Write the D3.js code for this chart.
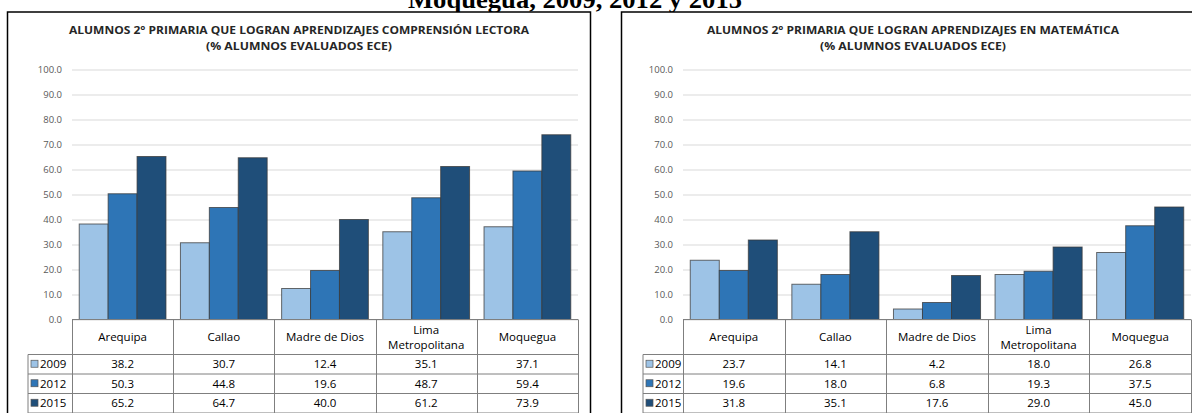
<!DOCTYPE html>
<html>
<head>
<meta charset="utf-8">
<script src="https://cdn.jsdelivr.net/npm/d3@7"></script>
<style>
  body { margin: 0; background: #fff; }
  svg { display: block; }
</style>
</head>
<body>
<svg id="chart" width="1192" height="413"></svg>
<script>
// Regions and evaluation years
const categories = ["Arequipa", "Callao", "Madre de Dios", "Lima\nMetropolitana", "Moquegua"];
const years = ["2009", "2012", "2015"];

// % of 2nd grade students reaching the expected level — reading comprehension
const lectura2009 = [38.2, 30.7, 12.4, 35.1, 37.1];
const lectura2012 = [50.3, 44.8, 19.6, 48.7, 59.4];
const lectura2015 = [65.2, 64.7, 40.0, 61.2, 73.9];

// % of 2nd grade students reaching the expected level — mathematics
const mate2009 = [23.7, 14.1, 4.2, 18.0, 26.8];
const mate2012 = [19.6, 18.0, 6.8, 19.3, 37.5];
const mate2015 = [31.8, 35.1, 17.6, 29.0, 45.0];

const yTicks = [0, 10, 20, 30, 40, 50, 60, 70, 80, 90, 100];

const pageTitle = "Moquegua, 2009, 2012 y 2015";
const titleLectura = ["ALUMNOS 2° PRIMARIA QUE LOGRAN APRENDIZAJES COMPRENSIÓN LECTORA", "(% ALUMNOS EVALUADOS ECE)"];
const titleMate = ["ALUMNOS 2° PRIMARIA QUE LOGRAN APRENDIZAJES EN MATEMÁTICA", "(% ALUMNOS EVALUADOS ECE)"];

const yearColors = ["#9dc3e6", "#2e75b6", "#1f4e79"];
const uiFont = "'Open Sans', 'Noto Sans', sans-serif";

const svg = d3.select("#chart");

// Caption above the two panels (its upper part lies off the page)
svg.append("text")
  .attr("x", 575).attr("y", 8)
  .attr("text-anchor", "middle")
  .attr("font-family", "'Liberation Serif', 'Times New Roman', serif")
  .attr("font-weight", "bold")
  .attr("font-size", 26)
  .attr("textLength", 334)
  .attr("lengthAdjust", "spacingAndGlyphs")
  .text(pageTitle);

function drawPanel(cfg) {
  const g = svg.append("g");
  const series = cfg.series;

  // Panel frame
  g.append("rect")
    .attr("x", cfg.boxX).attr("y", 12)
    .attr("width", cfg.boxW).attr("height", 440)
    .attr("fill", "#fff").attr("stroke", "#000").attr("stroke-width", 1.5);

  // Panel title
  const cx = cfg.boxX + cfg.boxW / 2;
  cfg.title.forEach((line, i) => {
    g.append("text")
      .attr("x", cx).attr("y", 34 + i * 16)
      .attr("text-anchor", "middle")
      .attr("font-family", uiFont)
      .attr("font-weight", "bold")
      .attr("font-size", 11)
      .attr("fill", "#262626")
      .attr("textLength", i === 0 ? cfg.titleW : 186)
      .attr("lengthAdjust", "spacingAndGlyphs")
      .text(line);
  });

  const y = d3.scaleLinear().domain([0, 100]).range([319.5, 69.5]);
  const x0 = d3.scaleBand().domain(categories).range([cfg.plotX0, cfg.plotX1]).padding(0);
  const x1 = d3.scaleBand().domain(years).range([0, x0.bandwidth()])
    .paddingInner(0).paddingOuter(0.25);

  // Gridlines and value axis
  const yAxis = d3.axisLeft(y).tickValues(yTicks).tickFormat(d3.format(".1f"))
    .tickSize(-(cfg.plotX1 - cfg.plotX0)).tickPadding(cfg.labelGap);
  const ax = g.append("g").attr("transform", `translate(${cfg.plotX0},0)`).call(yAxis);
  ax.select(".domain").remove();
  ax.selectAll(".tick line").attr("stroke", "#d9d9d9").attr("stroke-width", 1);
  ax.selectAll(".tick text")
    .attr("font-family", uiFont).attr("font-size", 9.5).attr("fill", "#595959");

  // Bars
  categories.forEach((cat, ci) => {
    series.forEach((vals, si) => {
      g.append("rect")
        .attr("x", x0(cat) + x1(years[si]))
        .attr("y", y(vals[ci]))
        .attr("width", x1.bandwidth())
        .attr("height", y(0) - y(vals[ci]))
        .attr("fill", yearColors[si])
        .attr("stroke", "#3a3a3a")
        .attr("stroke-opacity", 0.75)
        .attr("stroke-width", 1);
    });
  });

  // Data table under the plot
  const lineCol = "#7f7f7f";
  const rowTop = 319.5, headBottom = 354.5, rowH = 19.5;
  const tableFont = 11.5;
  // header row
  g.append("line").attr("x1", cfg.plotX0).attr("x2", cfg.plotX1)
    .attr("y1", rowTop).attr("y2", rowTop).attr("stroke", lineCol);
  years.forEach((yr, i) => {
    const yy = headBottom + i * rowH;
    g.append("line").attr("x1", cfg.legX).attr("x2", cfg.plotX1)
      .attr("y1", yy).attr("y2", yy).attr("stroke", lineCol);
  });
  g.append("line").attr("x1", cfg.legX).attr("x2", cfg.plotX1)
    .attr("y1", headBottom + 3 * rowH).attr("y2", headBottom + 3 * rowH).attr("stroke", lineCol);
  g.append("line").attr("x1", cfg.legX).attr("x2", cfg.legX)
    .attr("y1", headBottom).attr("y2", 430).attr("stroke", lineCol);
  const edges = categories.map(c => x0(c)).concat([cfg.plotX1]);
  edges.forEach(ex => {
    g.append("line").attr("x1", Math.round(ex) + 0.5).attr("x2", Math.round(ex) + 0.5)
      .attr("y1", rowTop).attr("y2", 430).attr("stroke", lineCol);
  });

  // category labels
  categories.forEach(cat => {
    const lines = cat.split("\n");
    const mx = x0(cat) + x0.bandwidth() / 2;
    lines.forEach((ln, li) => {
      g.append("text")
        .attr("x", mx)
        .attr("y", (rowTop + headBottom) / 2 + 4 + (li - (lines.length - 1) / 2) * 15)
        .attr("text-anchor", "middle")
        .attr("font-family", uiFont).attr("font-size", tableFont).attr("fill", "#000")
        .text(ln);
    });
  });

  // value rows with year keys
  years.forEach((yr, si) => {
    const cyRow = headBottom + si * rowH + rowH / 2;
    g.append("rect")
      .attr("x", cfg.legX + 3).attr("y", cyRow - 4)
      .attr("width", 7).attr("height", 7)
      .attr("fill", yearColors[si]).attr("stroke", "#555").attr("stroke-width", 0.7);
    g.append("text")
      .attr("x", cfg.legX + 12).attr("y", cyRow + 4)
      .attr("font-family", uiFont).attr("font-size", tableFont).attr("fill", "#000")
      .text(yr);
    categories.forEach((cat, ci) => {
      g.append("text")
        .attr("x", x0(cat) + x0.bandwidth() / 2)
        .attr("y", cyRow + 4)
        .attr("text-anchor", "middle")
        .attr("font-family", uiFont).attr("font-size", tableFont).attr("fill", "#000")
        .text(d3.format(".1f")(series[si][ci]));
    });
  });
}

drawPanel({
  boxX: 7.5, boxW: 583, plotX0: 72, plotX1: 578, legX: 28, labelGap: 10,
  title: titleLectura, titleW: 460,
  series: [lectura2009, lectura2012, lectura2015]
});

drawPanel({
  boxX: 621.5, boxW: 583, plotX0: 683, plotX1: 1191, legX: 643, labelGap: 10,
  title: titleMate, titleW: 412,
  series: [mate2009, mate2012, mate2015]
});
</script>
</body>
</html>
